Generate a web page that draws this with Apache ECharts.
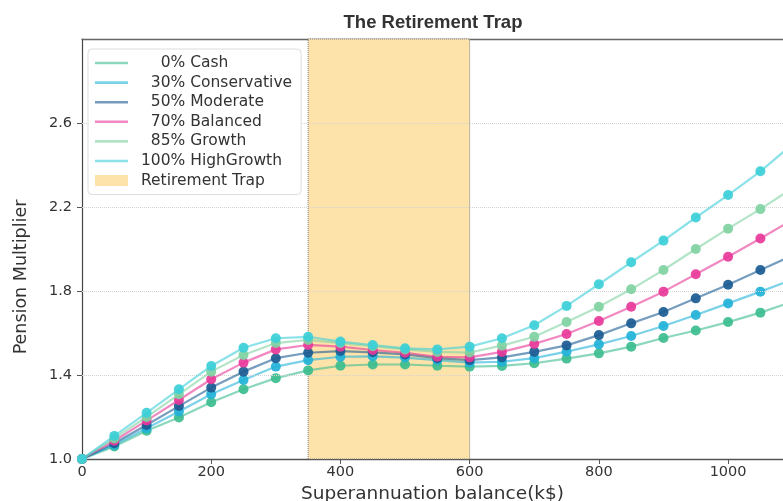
<!DOCTYPE html>
<html>
<head>
<meta charset="utf-8">
<script src="https://cdn.jsdelivr.net/npm/echarts@6/dist/echarts.min.js"></script>
<style>
  html, body { margin: 0; padding: 0; background: #ffffff; }
  #chart { width: 783px; height: 501px; }
</style>
</head>
<body>
<div id="chart"></div>
<script>
// Superannuation balance (k$) at which each pension multiplier is evaluated
const balance = [0, 50, 100, 150, 200, 250, 300, 350, 400, 450, 500, 550,
                 600, 650, 700, 750, 800, 850, 900, 950, 1000, 1050, 1100];

// Pension multiplier per investment mix
const cash         = [1.00, 1.060, 1.135, 1.198, 1.270, 1.332, 1.385, 1.422, 1.444, 1.450, 1.450, 1.444,
                      1.440, 1.443, 1.456, 1.478, 1.503, 1.535, 1.576, 1.612, 1.652, 1.697, 1.750];
const conservative = [1.00, 1.067, 1.146, 1.226, 1.308, 1.376, 1.440, 1.471, 1.487, 1.489, 1.483, 1.471,
                      1.459, 1.463, 1.480, 1.511, 1.546, 1.586, 1.633, 1.686, 1.741, 1.797, 1.855];
const moderate     = [1.00, 1.075, 1.162, 1.252, 1.340, 1.416, 1.480, 1.506, 1.514, 1.508, 1.498, 1.480,
                      1.471, 1.484, 1.510, 1.541, 1.590, 1.646, 1.700, 1.765, 1.830, 1.900, 1.970];
const balanced     = [1.00, 1.087, 1.183, 1.281, 1.380, 1.459, 1.522, 1.543, 1.535, 1.519, 1.506, 1.487,
                      1.484, 1.510, 1.548, 1.595, 1.657, 1.725, 1.797, 1.880, 1.963, 2.050, 2.140];
const growth       = [1.00, 1.098, 1.200, 1.308, 1.416, 1.495, 1.552, 1.567, 1.552, 1.537, 1.522, 1.510,
                      1.507, 1.540, 1.582, 1.652, 1.725, 1.808, 1.900, 2.000, 2.097, 2.190, 2.290];
const highGrowth   = [1.00, 1.110, 1.220, 1.332, 1.443, 1.530, 1.575, 1.582, 1.559, 1.543, 1.527, 1.522,
                      1.535, 1.575, 1.637, 1.729, 1.832, 1.937, 2.040, 2.150, 2.257, 2.370, 2.500];

const seriesNames  = ['    0% Cash', '  30% Conservative', '  50% Moderate',
                      '  70% Balanced', '  85% Growth', '100% HighGrowth'];
const seriesValues = [cash, conservative, moderate, balanced, growth, highGrowth];
const dotColors    = ['#3cbd8e', '#22b2d8', '#1b5b93', '#e8399a', '#80d2a2', '#3ccfd8'];

// Balance band where the multiplier stalls
const trapName  = 'Retirement Trap';
const trapStart = 350;
const trapEnd   = 600;

// Axis ticks
const xTicks = [0, 200, 400, 600, 800, 1000];
const yTicks = [1.0, 1.4, 1.8, 2.2, 2.6];
const yGrid  = [1.4, 1.8, 2.2, 2.6];

const FONT = 'DejaVu Sans';
const lineIcon = 'path://M0 0H33V2.6H0Z';

function fade(hex, a) {
  const n = parseInt(hex.slice(1), 16);
  return 'rgba(' + ((n >> 16) & 255) + ',' + ((n >> 8) & 255) + ',' + (n & 255) + ',' + a + ')';
}

const chart = echarts.init(document.getElementById('chart'), null, { renderer: 'canvas' });

const bandSeries = {
  name: trapName,
  type: 'line',
  data: [],
  z: 1,
  markArea: {
    silent: true,
    itemStyle: {
      color: '#fde3aa',
      borderColor: '#777',
      borderWidth: 1,
      borderType: 'dotted'
    },
    data: [[{ xAxis: trapStart }, { xAxis: trapEnd }]]
  },
  markLine: {
    silent: true,
    symbol: 'none',
    label: { show: false },
    lineStyle: { color: '#d4d4d4', width: 1, type: 'dotted' },
    data: yGrid.map(v => ({ yAxis: v }))
  }
};

const lineSeries = seriesNames.map((name, k) => ({
  name: name,
  type: 'line',
  z: 3 + k,
  data: balance.map((b, i) => [b, seriesValues[k][i]]),
  symbol: 'circle',
  symbolSize: 10,
  showAllSymbol: true,
  lineStyle: { color: fade(dotColors[k], 0.6), width: 2.2 },
  itemStyle: { color: dotColors[k], opacity: 0.92 },
  emphasis: { disabled: true }
}));

chart.setOption({
  animation: false,
  backgroundColor: '#ffffff',
  title: {
    text: 'The Retirement Trap',
    left: 428,
    top: 8,
    textAlign: 'center',
    textStyle: { fontFamily: 'Liberation Sans', fontWeight: 'bold', fontSize: 18.5, color: '#333' }
  },
  legend: {
    left: 88,
    top: 49,
    z: 20,
    orient: 'vertical',
    itemWidth: 33,
    itemHeight: 11,
    itemGap: 3.6,
    padding: [6, 9, 6, 7],
    borderColor: '#dddddd',
    borderWidth: 1,
    borderRadius: 4,
    backgroundColor: '#ffffff',
    textStyle: { fontFamily: FONT, fontSize: 15.5, color: '#333', lineHeight: 16, padding: [0, 0, 0, 8] },
    selectedMode: false,
    data: seriesNames.map((name, k) => ({
      name: name,
      icon: lineIcon,
      itemStyle: { color: fade(dotColors[k], 0.65) }
    })).concat([{ name: trapName, icon: 'rect', itemStyle: { color: '#fde3aa' } }])
  },
  grid: { left: 82, right: 0, top: 39, bottom: 42, containLabel: false, outerBoundsMode: 'none' },
  xAxis: [{
    type: 'value',
    min: 0,
    max: 1085,
    name: 'Superannuation balance(k$)',
    nameLocation: 'middle',
    nameGap: 22,
    nameTextStyle: { fontFamily: FONT, fontSize: 18.5, color: '#333' },
    axisLine: { show: true, lineStyle: { color: '#555', width: 1.4 } },
    axisTick: { show: true, inside: false, length: 5, customValues: xTicks, lineStyle: { color: '#555' } },
    axisLabel: {
      customValues: xTicks,
      margin: 6,
      fontFamily: FONT,
      fontSize: 14.5,
      color: '#333',
      formatter: v => String(v)
    },
    splitLine: { show: false }
  }, {
    type: 'value',
    position: 'top',
    min: 0,
    max: 1085,
    axisLine: { show: true, lineStyle: { color: '#666', width: 1.4 } },
    axisTick: { show: false },
    axisLabel: { show: false },
    splitLine: { show: false }
  }],
  yAxis: {
    type: 'value',
    min: 1.0,
    max: 3.0,
    name: 'Pension Multiplier',
    nameLocation: 'middle',
    nameGap: 52,
    nameTextStyle: { fontFamily: FONT, fontSize: 17.5, color: '#333', padding: [0, 56, 0, 0] },
    axisLine: { show: true, lineStyle: { color: '#444', width: 1.2 } },
    axisTick: { show: true, inside: false, length: 5, customValues: yTicks, lineStyle: { color: '#555' } },
    axisLabel: {
      customValues: yTicks,
      margin: 10,
      fontFamily: FONT,
      fontSize: 14.5,
      color: '#333',
      formatter: v => v.toFixed(1)
    },
    splitLine: { show: false }
  },
  series: [bandSeries].concat(lineSeries)
});
</script>
</body>
</html>
